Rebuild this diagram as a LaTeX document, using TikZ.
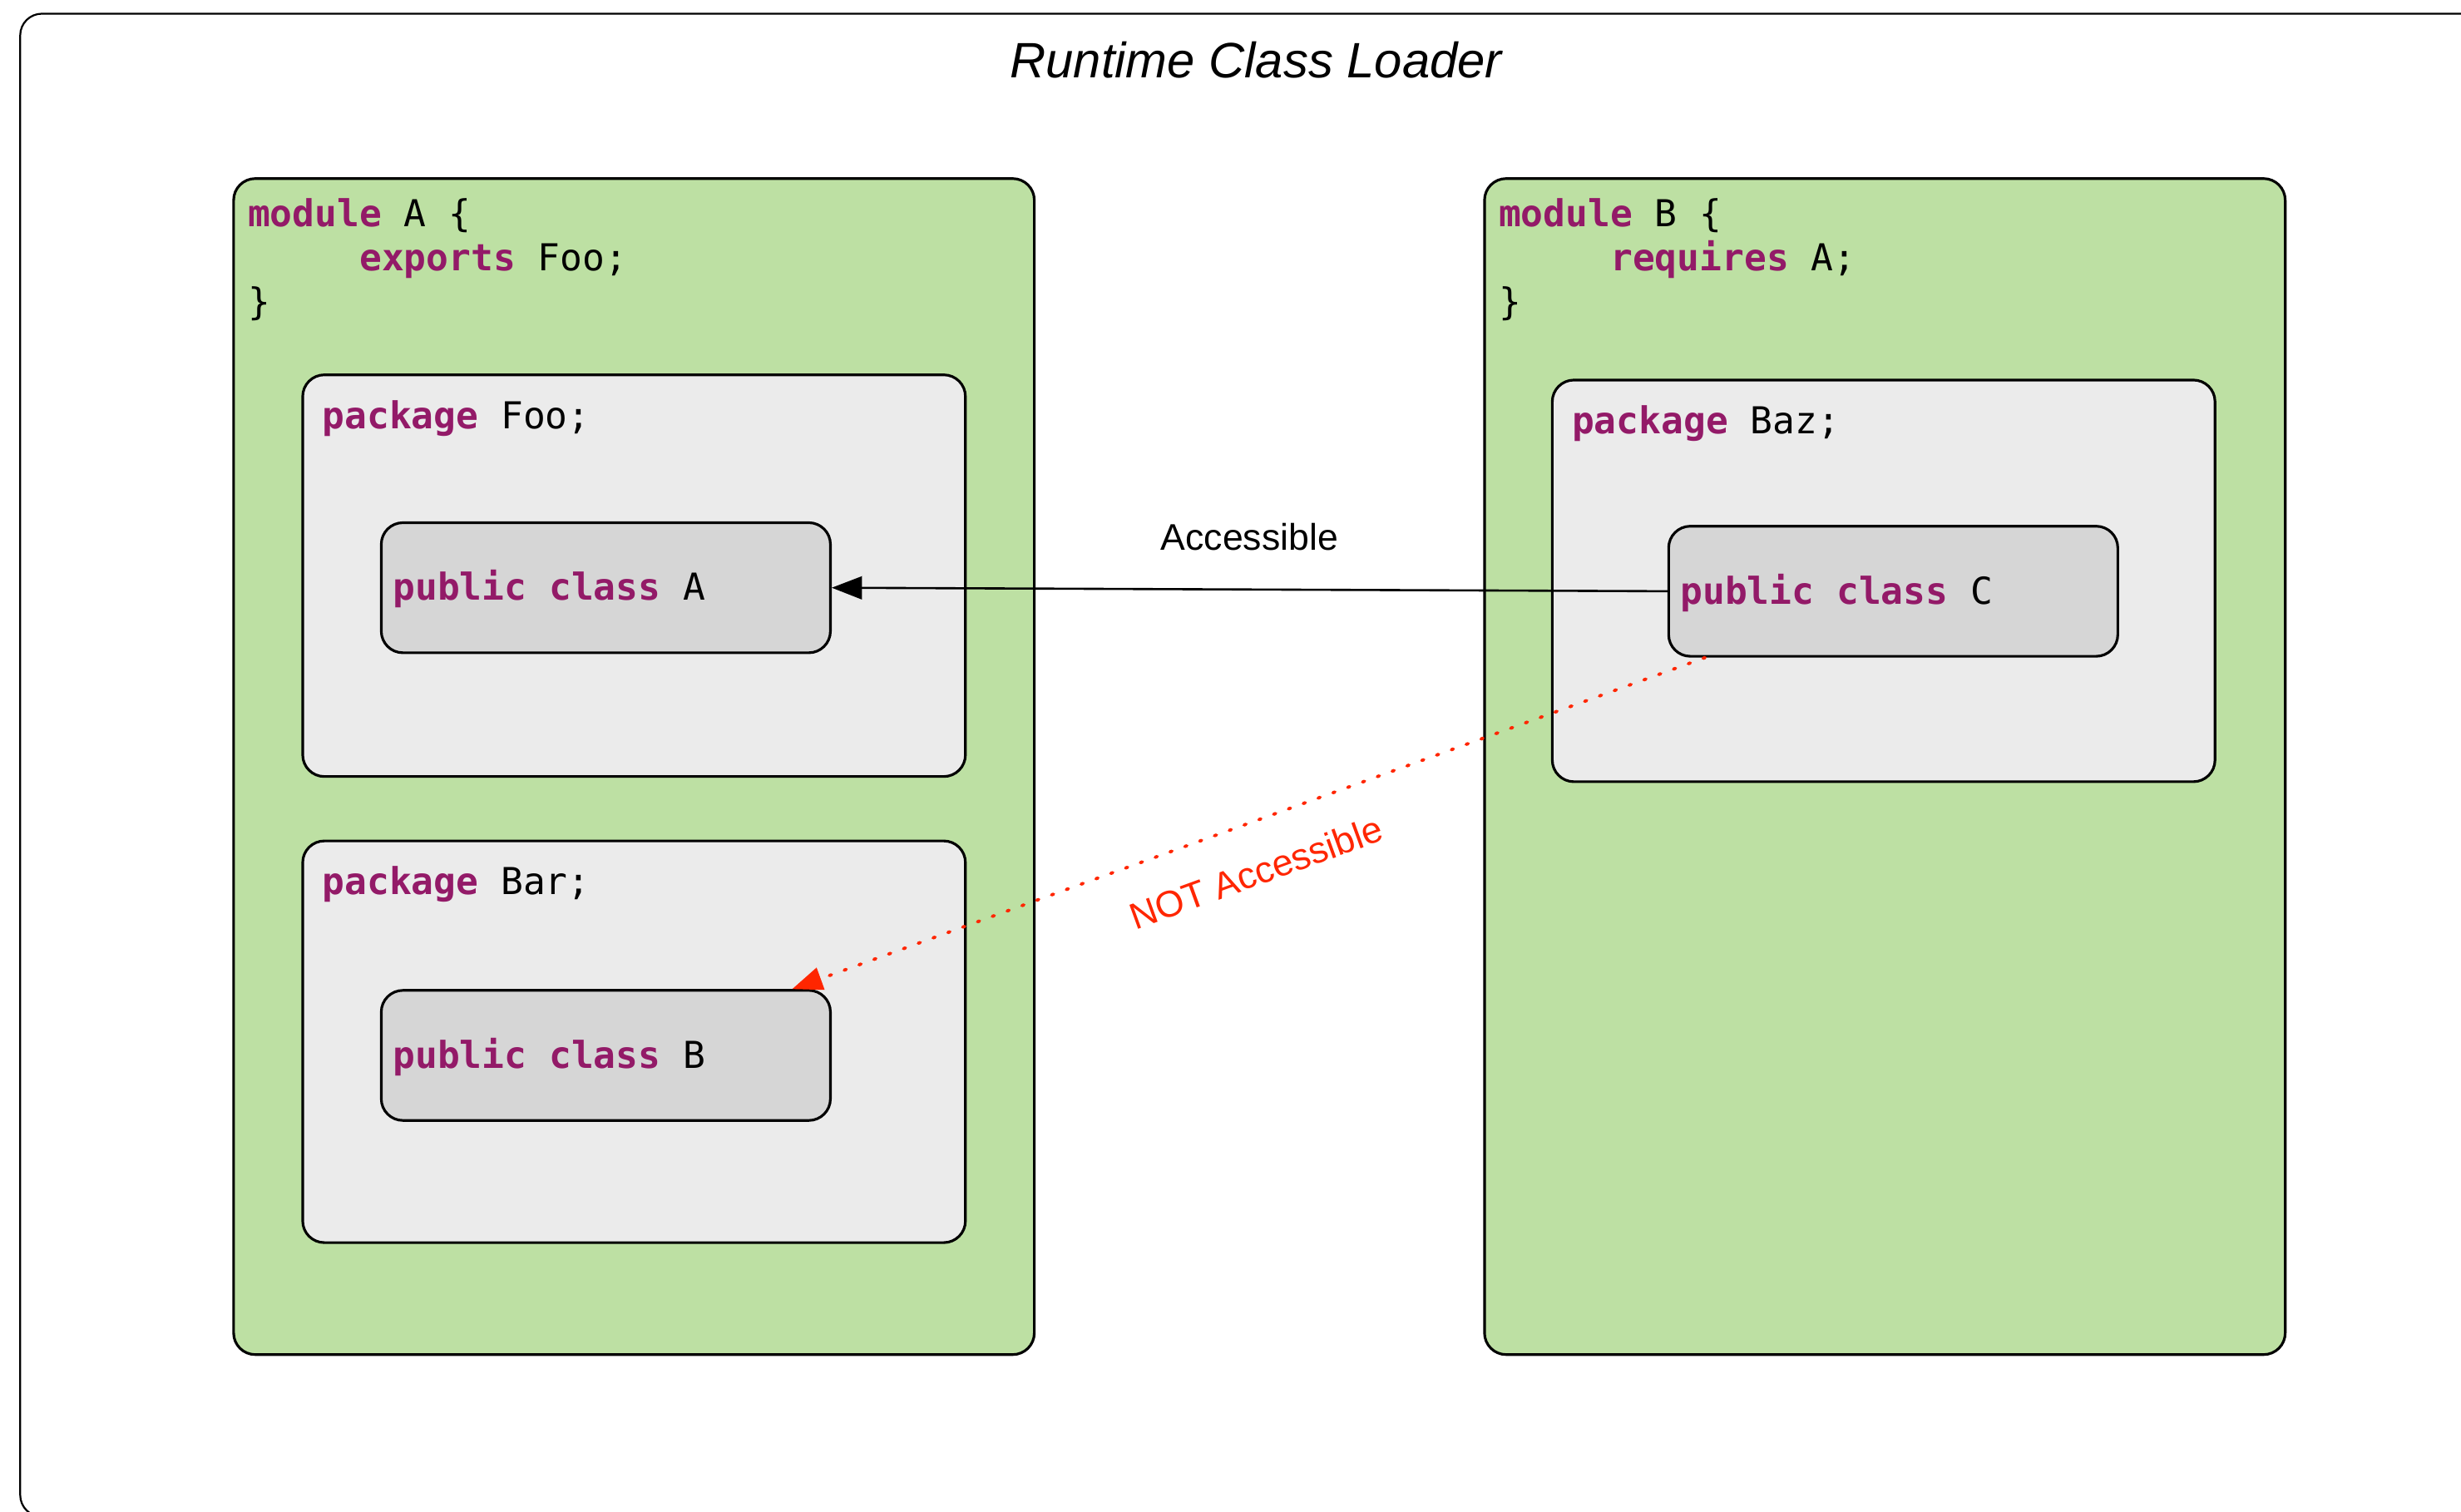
\documentclass[tikz,border=0pt]{standalone}
\usepackage{fontspec}
\usepackage{tikz}
\usetikzlibrary{arrows.meta,positioning}

\newfontfamily\labelfont{Liberation Sans}
\newfontfamily\codefont{DejaVu Sans Mono}

\definecolor{modgreen}{HTML}{BDE0A3}
\definecolor{pkggray}{HTML}{EBEBEB}
\definecolor{clsgray}{HTML}{D6D6D6}
\definecolor{kwpurple}{HTML}{931A68}
\definecolor{notred}{HTML}{FF2600}

\newcommand{\kwd}[1]{{\bfseries\color{kwpurple}#1}}

\tikzset{
  box/.style={draw, line width=0.85pt, rounded corners=7pt},
  module/.style={box, fill=modgreen, minimum width=9.11cm, minimum height=13.38cm,
    anchor=north west, inner sep=0pt},
  pkg/.style={box, fill=pkggray, minimum width=7.54cm, minimum height=4.57cm,
    anchor=north west, inner sep=0pt},
  cls/.style={box, fill=clsgray, minimum width=5.11cm, minimum height=1.48cm},
  code/.style={font=\codefont\fontsize{12}{14.3}\selectfont, align=left,
    inner sep=0pt, anchor=north west},
  lbl/.style={font=\labelfont\fontsize{12}{14}\selectfont},
  tip/.style={-{Triangle[length=9.8pt,width=7.4pt]}},
}

\begin{document}
\begin{tikzpicture}
  \useasboundingbox (0,0) rectangle (28,17.196);
  \fill[white] (0,0) rectangle (28,17.196);
  \clip (0,0) rectangle (28,17.196);

  % Class loader frame (runs off the right and bottom edges)
  \draw[line width=0.6pt, rounded corners=7pt] (0.23,17.04) rectangle (28.4,-0.06);
  \node[font=\labelfont\itshape\fontsize{16.1}{19}\selectfont, anchor=base]
    (title) at (14.29,16.31) {Runtime Class Loader};

  % === Module A ===
  \node[module] (modA) at (2.643,15.179) {};
  \node[code] (codeA) at ([shift={(0.17,-0.234)}]modA.north west)
    {\kwd{module} A \{\\\hphantom{xxxxx}\kwd{exports} Foo;\\\}};

  \node[pkg] (pkgFoo) at (3.429,12.946) {};
  \node[code, anchor=base west] (fooTxt) at ([shift={(0.232,-0.625)}]pkgFoo.north west)
    {\kwd{package} Foo;};
  \node[cls] (clsA) at (6.893,10.509) {};
  \node[code, anchor=base west] (clsATxt) at ([shift={(4pt,-4.1pt)}]clsA.west)
    {\kwd{public class} A};

  \node[pkg] (pkgBar) at (3.429,7.643) {};
  \node[code, anchor=base west] (barTxt) at ([shift={(0.232,-0.625)}]pkgBar.north west)
    {\kwd{package} Bar;};
  \node[cls] (clsB) at (6.893,5.188) {};
  \node[code, anchor=base west] (clsBTxt) at ([shift={(4pt,-4.1pt)}]clsB.west)
    {\kwd{public class} B};

  % === Module B ===
  \node[module] (modB) at (16.875,15.179) {};
  \node[code] (codeB) at ([shift={(0.17,-0.234)}]modB.north west)
    {\kwd{module} B \{\\\hphantom{xxxxx}\kwd{requires} A;\\\}};

  \node[pkg] (pkgBaz) at (17.646,12.887) {};
  \node[code, anchor=base west] (bazTxt) at ([shift={(0.232,-0.625)}]pkgBaz.north west)
    {\kwd{package} Baz;};
  \node[cls] (clsC) at (21.54,10.469) {};
  \node[code, anchor=base west] (clsCTxt) at ([shift={(4pt,-4.1pt)}]clsC.west)
    {\kwd{public class} C};

  % Access from C
  \draw[line width=0.7pt, tip] (clsC.west) -- (clsA.east)
    node[lbl, midway, above=9pt] (accLbl) {Accessible};
  \draw[notred, line width=1.05pt, line cap=round, dash pattern=on 0.7pt off 4.4pt, tip]
    ([xshift=0.43cm]clsC.south west) -- ([xshift=-0.45cm]clsB.north east)
    node[lbl, text=notred, pos=0.51, sloped, below=7.5pt] (notLbl) {NOT Accessible};

\end{tikzpicture}
\end{document}
